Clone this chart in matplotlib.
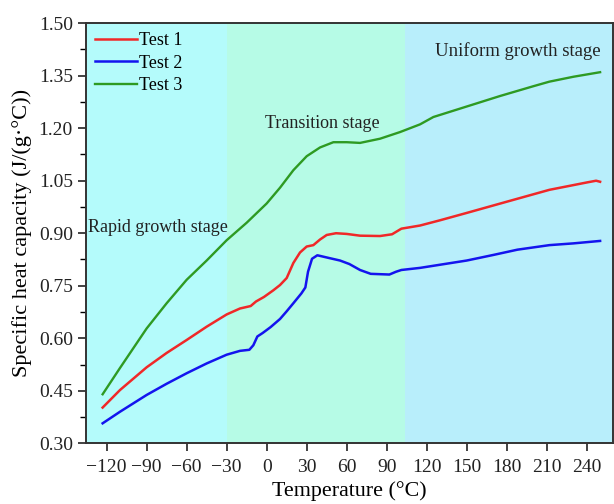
import matplotlib
matplotlib.use("Agg")
import matplotlib.pyplot as plt
from matplotlib.ticker import AutoMinorLocator

plt.rcParams['font.family'] = ['Liberation Serif', 'DejaVu Serif']

# ---- data ----
t_test1 = [-123, -110, -90, -75, -60, -45, -30, -20, -12, -8, -2, 5, 10, 15, 20, 25, 30, 35,
           40, 45, 52, 60, 70, 85, 94, 101, 115, 130, 150, 180, 212, 240, 247, 250]
cp_test1 = [0.402, 0.452, 0.517, 0.558, 0.595, 0.633, 0.668, 0.685, 0.692, 0.705, 0.718, 0.737,
            0.752, 0.772, 0.815, 0.845, 0.862, 0.866, 0.882, 0.895, 0.900, 0.898, 0.893, 0.892,
            0.897, 0.913, 0.922, 0.937, 0.958, 0.990, 1.024, 1.045, 1.050, 1.047]

t_test2 = [-123, -110, -90, -75, -60, -45, -30, -20, -13, -10, -7, -3, 3, 10, 15, 20, 26, 29,
           31, 34, 38, 47, 55, 62, 70, 78, 92, 97, 101, 115, 130, 150, 170, 188, 212, 230, 250]
cp_test2 = [0.357, 0.390, 0.438, 0.470, 0.500, 0.528, 0.553, 0.564, 0.567, 0.580, 0.605, 0.615,
            0.632, 0.655, 0.677, 0.700, 0.728, 0.745, 0.790, 0.827, 0.837, 0.829, 0.822, 0.812,
            0.795, 0.784, 0.782, 0.790, 0.795, 0.801, 0.810, 0.822, 0.838, 0.853, 0.866, 0.871, 0.878]

t_test3 = [-123, -110, -90, -75, -60, -45, -30, -15, 0, 10, 20, 30, 40, 50, 60, 70, 85, 100,
           115, 125, 150, 175, 200, 212, 230, 250]
cp_test3 = [0.440, 0.515, 0.628, 0.700, 0.767, 0.822, 0.880, 0.930, 0.985, 1.030, 1.080, 1.120,
            1.145, 1.160, 1.160, 1.158, 1.170, 1.189, 1.211, 1.232, 1.262, 1.292, 1.320, 1.333,
            1.347, 1.360]

series_labels = ["Test 1", "Test 2", "Test 3"]
stage_bounds = [-135.5, -30, 104, 259.5]
stage_labels = ["Rapid growth stage", "Transition stage", "Uniform growth stage"]
x_ticks = [-120, -90, -60, -30, 0, 30, 60, 90, 120, 150, 180, 210, 240]
y_ticks = [0.30, 0.45, 0.60, 0.75, 0.90, 1.05, 1.20, 1.35, 1.50]

# ---- figure ----
fig = plt.figure(figsize=(6.14, 5.04), dpi=100)
ax = fig.add_axes([0.140, 0.1205, 0.858, 0.8335])

stage_colors = ["#b4fbfb", "#b6fbe6", "#b8eefb"]
for i in range(3):
    ax.axvspan(stage_bounds[i], stage_bounds[i + 1], color=stage_colors[i], lw=0, zorder=0)

ax.plot(t_test1, cp_test1, color="#f02828", lw=1.8, label=series_labels[0], zorder=3)
ax.plot(t_test2, cp_test2, color="#1414ee", lw=1.8, label=series_labels[1], zorder=3)
ax.plot(t_test3, cp_test3, color="#2e9a22", lw=1.7, label=series_labels[2], zorder=3)

ax.set_xlim(stage_bounds[0], stage_bounds[-1])
ax.set_ylim(0.30, 1.50)
ax.set_xticks(x_ticks)
ax.set_yticks(y_ticks)
ax.set_yticklabels([f"{v:.2f}" for v in y_ticks])
ax.yaxis.set_minor_locator(AutoMinorLocator(2))
ax.tick_params(axis='both', which='major', direction='out', length=6, width=1.2,
               labelsize=14, colors='#222222')
ax.tick_params(axis='x', which='major', pad=5)
ax.tick_params(axis='y', which='minor', direction='out', length=4, width=1.0)
ax.tick_params(top=False, right=False)

for s in ax.spines.values():
    s.set_linewidth(1.4)
    s.set_color('#333333')

ax.set_xlabel("Temperature (°C)", fontsize=15.8, labelpad=4)
ax.set_ylabel("Specific heat capacity (J/(g·°C))", fontsize=16, labelpad=5)

ax.text(-134, 0.916, stage_labels[0], fontsize=13, ha='left', va='center', color='#222222')
ax.text(41.5, 1.214, stage_labels[1], fontsize=13, ha='center', va='center', color='#222222')
ax.text(188, 1.419, stage_labels[2], fontsize=13.5, ha='center', va='center', color='#222222')

leg = ax.legend(loc='upper left', frameon=False, fontsize=13, handlelength=2.3,
                handletextpad=0.15, labelspacing=0.3, borderaxespad=0.1,
                bbox_to_anchor=(0.0, 1.0))

fig.savefig("out.png", dpi=100)
